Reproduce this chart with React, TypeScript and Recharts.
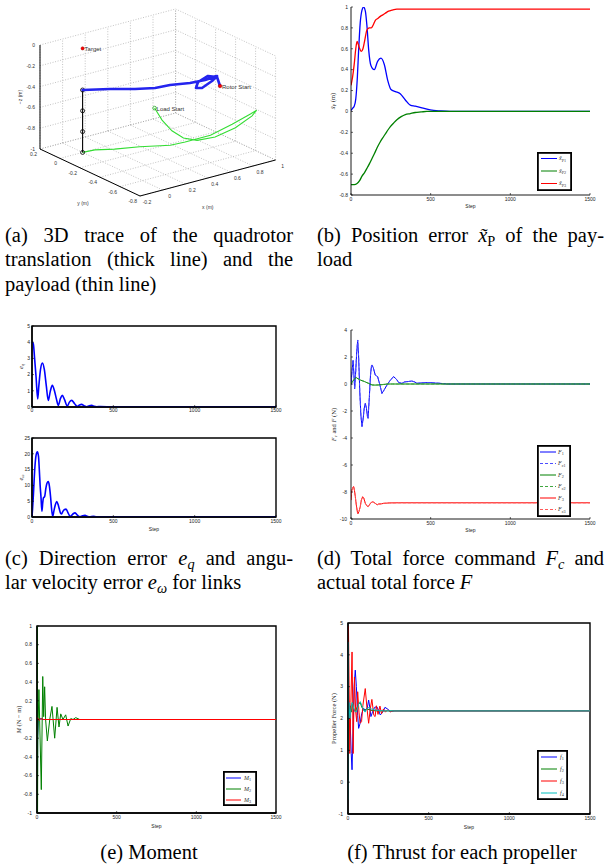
import React from 'react';
import { LineChart, Line, XAxis, YAxis, ScatterChart, Scatter, Legend, ReferenceArea, Label } from 'recharts';

const SANS = '"Liberation Sans", Arial, sans-serif';
const SERIF = '"Liberation Serif", "Times New Roman", serif';
const BLUE = '#0000ff';
const GREEN = '#008000';
const RED = '#ff0000';
const CYAN = '#00bfbf';

// ---------- (a) 3D trace (metres) ----------
const quadX = [0.825, 0.917, 0.878, 0.749, 0.665, 0.699, 0.84, 0.929, 0.813, 0.692, 0.554, 0.434, 0.308, 0.167, 0.0];
const quadY = [-0.442, -0.308, -0.262, -0.308, -0.382, -0.404, -0.345, -0.295, -0.306, -0.292, -0.248, -0.234, -0.176, -0.085, 0.0];
const quadZ = [-0.4, -0.4, -0.4, -0.4, -0.4, -0.4, -0.4, -0.4, -0.4, -0.4, -0.4, -0.4, -0.4, -0.4, -0.4];

const loadX = [0.69, 0.65, 0.64, 0.68, 0.73, 0.81, 0.91, 0.96, 0.93, 0.91, 0.81, 0.68, 0.58, 0.52, 0.39, 0.22, 0.1, 0.0];
const loadY = [0.06, -0.06, -0.17, -0.24, -0.32, -0.41, -0.5, -0.61, -0.69, -0.65, -0.58, -0.51, -0.37, -0.29, -0.13, -0.07, -0.01, 0.0];
const loadZ = [-0.8, -0.85, -0.9, -0.95, -0.95, -0.9, -0.8, -0.65, -0.55, -0.6, -0.7, -0.8, -0.9, -0.95, -1, -1, -1, -1];

const cableZ = [-0.4, -0.6, -0.8, -1.0];
const target3 = [0, 0, 0];

const xTicks3 = [-0.2, 0, 0.2, 0.4, 0.6, 0.8, 1];
const yTicks3 = [-0.8, -0.6, -0.4, -0.2, 0, 0.2];
const zTicks3 = [-1, -0.8, -0.6, -0.4, -0.2, 0];

// ---------- (b) position error ----------
const bStepsX = [0, 10, 20, 30, 40, 48, 58, 69, 79, 90, 100, 111, 125, 146, 167, 188, 209, 230, 251, 278, 309, 341, 372, 403, 445, 497, 560, 620, 800, 1500];
const bValsX = [0.01, 0.03, 0.05, 0.12, 0.33, 0.59, 0.85, 0.97, 1.0, 0.96, 0.82, 0.59, 0.44, 0.4, 0.48, 0.51, 0.45, 0.3, 0.21, 0.19, 0.17, 0.11, 0.06, 0.05, 0.035, 0.015, 0.005, 0, 0, 0];
const bStepsY = [0, 20, 38, 55, 69, 85, 100, 116, 132, 148, 163, 184, 205, 226, 247, 268, 288, 315, 341, 372, 403, 440, 476, 520, 600, 1500];
const bValsY = [-0.7, -0.7, -0.69, -0.66, -0.62, -0.585, -0.545, -0.5, -0.45, -0.4, -0.35, -0.29, -0.24, -0.19, -0.145, -0.11, -0.08, -0.05, -0.03, -0.02, -0.01, -0.005, 0, 0, 0, 0];
const bStepsZ = [0, 10, 20, 30, 38, 46, 55, 65, 75, 85, 100, 115, 127, 140, 152, 168, 184, 200, 215, 236, 257, 288, 330, 1500];
const bValsZ = [0.25, 0.33, 0.45, 0.6, 0.67, 0.64, 0.6, 0.575, 0.6, 0.67, 0.78, 0.8, 0.8, 0.83, 0.87, 0.89, 0.91, 0.925, 0.94, 0.96, 0.97, 0.98, 0.98, 0.98];
const bTicks = [-0.8, -0.6, -0.4, -0.2, 0, 0.2, 0.4, 0.6, 0.8, 1];

// ---------- (c) direction / angular velocity error ----------
const eqSteps = [0, 8, 16, 25, 35, 42, 52, 64, 76, 88, 100, 112, 125, 138, 150, 162, 174, 186, 200, 217, 230, 244, 262, 279, 292, 305, 320, 336, 352, 367, 383, 398, 420, 500, 1500];
const eqVals = [4.0, 3.9, 3.0, 1.85, 0.5, 1.3, 2.3, 2.72, 2.3, 1.3, 0.41, 0.95, 1.34, 1.0, 0.5, 0.1, 0.5, 0.72, 0.45, 0.06, 0.3, 0.41, 0.2, 0.04, 0.12, 0.16, 0.08, 0.02, 0.08, 0.1, 0.04, 0.02, 0.03, 0, 0];
const ewSteps = [0, 4, 8, 13, 18, 25, 33, 40, 45, 50, 55, 61, 66, 70, 78, 85, 92, 100, 107, 114, 121, 127, 135, 143, 152, 160, 168, 176, 182, 190, 200, 209, 220, 230, 238, 245, 255, 264, 275, 285, 295, 310, 326, 340, 352, 365, 377, 395, 418, 500, 1500];
const ewVals = [0, 3, 6.5, 11.5, 15.9, 19.5, 20.6, 19.2, 14.9, 10, 6.5, 1.8, 4.5, 6.0, 6.5, 9.0, 10.7, 11.2, 9.8, 6.5, 2.3, 0.2, 2.0, 3.8, 4.9, 4.0, 2.5, 1.2, 1.0, 1.8, 2.4, 2.5, 1.5, 0.5, 0.2, 0.6, 1.1, 1.3, 0.8, 0.3, 0.1, 0.35, 0.5, 0.2, 0, 0.15, 0.2, 0.05, 0, 0, 0];
const eqTicks = [0, 1, 2, 3, 4, 5];
const ewTicks = [0, 5, 10, 15, 20, 25];

// ---------- (d) total force ----------
const f1Steps = [0, 6, 13, 18, 23, 30, 36, 42, 48, 55, 62, 69, 76, 83, 90, 97, 103, 107, 115, 122, 128, 132, 140, 152, 160, 167, 180, 194, 210, 226, 245, 267, 285, 300, 320, 335, 351, 370, 382, 400, 414, 440, 470, 497, 530, 560, 600, 1500];
const f1Vals = [-0.07, 0.9, 1.75, 0.8, -0.36, 1.0, 2.4, 3.26, 2.0, -0.5, -2.3, -3.16, -2.6, -1.8, -1.43, -1.8, -2.4, -2.54, -1.0, 0.6, 1.3, 1.41, 1.2, 0.67, 0.6, 0.55, 0.0, -0.7, -0.4, -0.07, 0.25, 0.55, 0.35, 0.1, 0.05, 0.15, 0.17, 0.2, 0.22, 0.15, 0.05, 0.08, 0.1, 0.1, 0.07, 0.05, 0, 0];
const f2Steps = [0, 10, 20, 27, 33, 45, 58, 69, 85, 100, 116, 132, 150, 173, 200, 226, 260, 300, 1500];
const f2Vals = [0, 0.2, 0.35, 0.42, 0.47, 0.38, 0.3, 0.25, 0.18, 0.1, 0.02, -0.07, -0.08, -0.07, -0.04, 0, 0, 0, 0];
const f3Steps = [0, 3, 6, 12, 17, 22, 27, 35, 42, 50, 58, 65, 73, 80, 90, 98, 107, 116, 125, 138, 152, 165, 173, 190, 205, 240, 300, 1500];
const f3Vals = [-8.6, -8.1, -7.85, -7.65, -7.6, -7.9, -8.35, -9.1, -9.63, -9.45, -9.09, -8.6, -8.35, -8.45, -8.84, -9.0, -9.09, -8.95, -8.79, -8.72, -8.84, -8.95, -8.89, -8.88, -8.84, -8.81, -8.8, -8.8];
const dTicks = [-10, -8, -6, -4, -2, 0, 2, 4];

// ---------- (e) moment ----------
const m1Steps = [0, 1, 2, 4, 8, 20, 40, 1500];
const m1Vals = [0, -0.6, -1.3, -0.2, 0, 0.01, 0, 0];
const m2Steps = [0, 1, 2, 3, 5, 12, 27, 36, 42, 48, 54, 65, 80, 94, 111, 126, 138, 149, 163, 180, 195, 212, 226, 243, 268, 289, 400, 1500];
const m2Vals = [0, 1.4, 0.6, -1.3, -0.2, 0.32, -0.75, 0.46, 0.03, 0.35, 0.0, -0.23, 0.0, 0.14, -0.2, 0.13, -0.08, 0.06, 0.0, 0.05, -0.07, 0.01, 0.0, 0.02, 0.0, 0.0, 0, 0];
const m3Steps = [0, 3, 8, 15, 25, 40, 1500];
const m3Vals = [0, 0.02, 0.01, -0.01, 0.01, 0, 0];
const eTicks = [-1, -0.8, -0.6, -0.4, -0.2, 0, 0.2, 0.4, 0.6, 0.8, 1];

// ---------- (f) propeller thrust ----------
const p1Steps = [0, 3, 8, 14, 20, 25, 32, 38, 45, 52, 60, 66, 75, 85, 97, 108, 118, 128, 135, 142, 152, 165, 179, 190, 200, 215, 229, 245, 262, 290, 1500];
const p1Vals = [2.4, 2.58, 2.45, 1.8, 0.9, 0.39, 1.8, 3.0, 3.52, 3.0, 2.1, 1.69, 1.85, 2.15, 2.32, 2.25, 2.3, 2.58, 2.35, 2.06, 2.2, 2.35, 2.37, 2.25, 2.11, 2.2, 2.35, 2.3, 2.22, 2.24, 2.24];
const p2Steps = [0, 1, 2, 4, 8, 14, 20, 28, 36, 46, 56, 66, 76, 86, 100, 116, 130, 150, 180, 220, 1500];
const p2Vals = [2.2, 4.2, 1.0, 2.3, 2.1, 2.4, 2.2, 2.5, 2.3, 2.2, 2.35, 2.45, 2.5, 2.35, 2.25, 2.3, 2.28, 2.25, 2.24, 2.24, 2.24];
const p3Steps = [0, 3, 8, 11, 18, 25, 29, 32, 36, 40, 48, 54, 60, 68, 75, 84, 92, 107, 118, 128, 138, 148, 160, 168, 176, 186, 198, 208, 220, 232, 245, 262, 280, 1500];
const p3Vals = [2.2, 4.89, 2.5, 0.9, 2.5, 4.09, 2.5, 0.9, 2.2, 3.3, 2.2, 1.9, 2.84, 2.2, 1.85, 1.9, 2.4, 2.94, 2.3, 1.85, 2.3, 2.6, 2.1, 2.06, 2.4, 2.13, 2.39, 2.15, 2.3, 2.2, 2.27, 2.21, 2.24, 2.24];
const p4Steps = [0, 1, 2, 4, 6, 8, 12, 16, 20, 25, 30, 36, 42, 50, 58, 66, 76, 86, 96, 106, 116, 130, 145, 165, 190, 220, 260, 1500];
const p4Vals = [-0.55, 4.4, 2.0, 2.1, 2.5, 2.3, 2.0, 2.2, 2.35, 2.5, 2.45, 2.3, 2.25, 2.2, 2.3, 2.45, 2.53, 2.4, 2.27, 2.2, 2.3, 2.35, 2.3, 2.27, 2.25, 2.24, 2.24, 2.24];
const fTicks = [-1, 0, 1, 2, 3, 4, 5];

const STEP_TICKS = [0, 500, 1000, 1500];

// 3D -> screen projection of the view used in the figure (corner x=-0.2, y=0.2, z=-1 at 40,149)
const proj = (x: number, y: number, z: number) => ({
  px: 40 + 113 * (x + 0.2) - 100 * (y - 0.2),
  py: 149 - 30 * (x + 0.2) - 47 * (y - 0.2) - 104 * (z + 1),
});

const toRows = (steps: number[], values: number[]) => steps.map((s, i) => ({ step: s, v: values[i] }));

type Series = { key: string; steps: number[]; values: number[]; color: string; width?: number; dash?: string; label: React.ReactNode };

const sub = (t: React.ReactNode, size: number, dy: number) => (
  <tspan fontSize={size} dy={dy}>{t}</tspan>
);

function legendLabel(main: string, s: React.ReactNode) {
  return (
    <>
      <tspan fontStyle="italic">{main}</tspan>
      {sub(s, 4.2, 1.6)}
    </>
  );
}

interface LegendSpec { x: number; y: number; w: number; h: number; rows: number[]; lineX: [number, number]; textX: number }

interface PlotProps {
  x: number; y: number; w: number; h: number;
  top: number; right: number; yw: number; xh: number;
  yDomain: [number, number]; yTicks: number[];
  series: Series[];
  boxed?: boolean;
  yTickGap: number; xTickGap: number; stepGap?: number;
  yTitle?: React.ReactNode; yTitleX?: number;
  legend?: LegendSpec;
  curve: 'monotone' | 'linear';
}

function Plot(p: PlotProps) {
  const axisW = p.boxed ? 1.4 : 0.9;
  const tickStyle = { fontSize: 5, fill: '#222', fontFamily: SANS };
  const lg = p.legend;
  return (
    <div style={{ position: 'absolute', left: p.x, top: p.y, width: p.w, height: p.h }}>
      <LineChart width={p.w} height={p.h} margin={{ top: p.top, right: p.right, left: 0, bottom: 0 }}>
        <XAxis
          type="number" dataKey="step" domain={[0, 1500]} ticks={STEP_TICKS} interval={0} height={p.xh}
          tick={tickStyle} tickSize={-2} tickMargin={p.xTickGap}
          axisLine={{ stroke: '#000', strokeWidth: axisW }} tickLine={{ stroke: '#000', strokeWidth: 0.6 }}
          allowDataOverflow
        >
          {p.stepGap !== undefined && (
            <Label
              content={(props: any) => {
                const vb = props.viewBox;
                return (
                  <text x={vb.x + vb.width / 2} y={vb.y + (p.stepGap as number)} textAnchor="middle" fontSize={5} fontFamily={SANS} fill="#222">
                    Step
                  </text>
                );
              }}
            />
          )}
        </XAxis>
        <YAxis
          type="number" domain={p.yDomain} ticks={p.yTicks} interval={0} width={p.yw}
          tick={tickStyle} tickSize={-2} tickMargin={p.yTickGap} tickFormatter={(v: number) => String(v)}
          axisLine={{ stroke: '#000', strokeWidth: axisW }} tickLine={{ stroke: '#000', strokeWidth: 0.6 }}
          allowDataOverflow
        >
          {p.yTitle && (
            <Label
              content={(props: any) => {
                const vb = props.viewBox;
                const cy = vb.y + vb.height / 2;
                const tx = p.yTitleX as number;
                return (
                  <text x={tx} y={cy} transform={`rotate(-90 ${tx} ${cy})`} textAnchor="middle" dominantBaseline="central" fontSize={6.5} fontFamily={SERIF} fill="#222">
                    {p.yTitle}
                  </text>
                );
              }}
            />
          )}
        </YAxis>
        {p.boxed && (
          <XAxis xAxisId="t" orientation="top" type="number" domain={[0, 1500]} ticks={STEP_TICKS} interval={0} height={0}
            tick={false} tickSize={-2} axisLine={false} tickLine={{ stroke: '#000', strokeWidth: 0.6 }} />
        )}
        {p.boxed && (
          <YAxis yAxisId="r" orientation="right" type="number" domain={p.yDomain} ticks={p.yTicks} interval={0} width={0}
            tick={false} tickSize={-2} axisLine={false} tickLine={{ stroke: '#000', strokeWidth: 0.6 }} />
        )}
        {p.series.map((s) => (
          <Line
            key={s.key}
            data={toRows(s.steps, s.values)}
            dataKey="v"
            type={p.curve}
            stroke={s.color}
            strokeWidth={s.width ?? 1}
            strokeDasharray={s.dash}
            dot={false}
            activeDot={false}
            isAnimationActive={false}
          />
        ))}
        {p.boxed && (
          <ReferenceArea x1={0} x2={1500} y1={p.yDomain[0]} y2={p.yDomain[1]} fill="none" stroke="#000" strokeWidth={1.4} ifOverflow="visible" />
        )}
        {lg && (
          <Legend
            layout="horizontal" verticalAlign="middle" align="center"
            wrapperStyle={{ left: lg.x - p.x, top: lg.y - p.y, width: lg.w, height: lg.h }}
            content={() => (
              <svg width={lg.w} height={lg.h} style={{ display: 'block' }}>
                <rect x={0.9} y={0.9} width={lg.w - 1.8} height={lg.h - 1.8} fill="#fff" stroke="#000" strokeWidth={1.8} />
                {p.series.map((s, i) => (
                  <g key={s.key}>
                    <line x1={lg.lineX[0] - lg.x} x2={lg.lineX[1] - lg.x} y1={lg.rows[i] - lg.y} y2={lg.rows[i] - lg.y}
                      stroke={s.color} strokeWidth={1} strokeDasharray={s.dash} />
                    <text x={lg.textX - lg.x} y={lg.rows[i] - lg.y + 1.5} fontSize={6} fontFamily={SERIF} fill="#333">
                      {s.label}
                    </text>
                  </g>
                ))}
              </svg>
            )}
          />
        )}
      </LineChart>
    </div>
  );
}

const noShape = () => <g />;

const textShape = (dx: number, dy: number, anchor: 'start' | 'middle' | 'end', size: number, rotate = 0) =>
  (props: any) => {
    const x = props.cx + dx;
    const y = props.cy + dy;
    return (
      <text x={x} y={y} textAnchor={anchor} dominantBaseline="central" fontSize={size} fontFamily={SANS} fill="#333"
        transform={rotate ? `rotate(${rotate} ${x} ${y})` : undefined}>
        {props.payload.t}
      </text>
    );
  };

function Trace3D() {
  const grid: { px: number; py: number }[][] = [];
  xTicks3.forEach((x) => {
    grid.push([proj(x, 0.2, -1), proj(x, 0.2, 0)]);
    grid.push([proj(x, 0.2, -1), proj(x, -0.8, -1)]);
  });
  yTicks3.forEach((y) => {
    grid.push([proj(1, y, -1), proj(1, y, 0)]);
    grid.push([proj(-0.2, y, -1), proj(1, y, -1)]);
  });
  zTicks3.forEach((z) => {
    grid.push([proj(-0.2, 0.2, z), proj(1, 0.2, z)]);
    grid.push([proj(1, 0.2, z), proj(1, -0.8, z)]);
  });
  const axes = [
    [proj(-0.2, 0.2, -1), proj(-0.2, 0.2, 0)],
    [proj(-0.2, 0.2, -1), proj(-0.2, -0.8, -1)],
    [proj(-0.2, -0.8, -1), proj(1, -0.8, -1)],
  ];
  const quad = quadX.map((x, i) => proj(x, quadY[i], quadZ[i]));
  const load = loadX.map((x, i) => proj(x, loadY[i], loadZ[i]));
  const cable = cableZ.map((z) => proj(0, 0, z));
  const zLabels = zTicks3.map((z) => ({ ...proj(-0.2, 0.2, z), t: String(z) }));
  const yLabels = yTicks3.map((y) => ({ ...proj(-0.2, y, -1), t: String(y) }));
  const xLabels = xTicks3.map((x) => ({ ...proj(x, -0.8, -1), t: String(x) }));
  const target = [{ ...proj(target3[0], target3[1], target3[2]), t: 'Target' }];
  const rotor = [{ ...quad[0], t: 'Rotor Start' }];
  const loadStart = [{ ...load[0], t: 'Load Start' }];

  return (
    <div style={{ position: 'absolute', left: 0, top: 0, width: 300, height: 215 }}>
      <ScatterChart width={300} height={215} margin={{ top: 0, right: 0, bottom: 0, left: 0 }}>
        <XAxis type="number" dataKey="px" domain={[0, 300]} hide />
        <YAxis type="number" dataKey="py" domain={[0, 215]} reversed hide />
        {grid.map((seg, i) => (
          <Scatter key={`g${i}`} data={seg} shape={noShape} isAnimationActive={false}
            line={{ stroke: '#9a9a9a', strokeWidth: 0.6, strokeDasharray: '1 1.6' }} />
        ))}
        {axes.map((seg, i) => (
          <Scatter key={`a${i}`} data={seg} shape={noShape} isAnimationActive={false}
            line={{ stroke: '#000', strokeWidth: 1 }} />
        ))}
        <Scatter data={load} shape={noShape} isAnimationActive={false} line={{ stroke: '#33dd33', strokeWidth: 1.1 }} />
        <Scatter data={cable} isAnimationActive={false} line={{ stroke: '#000', strokeWidth: 1.1 }}
          shape={(props: any) => <circle cx={props.cx} cy={props.cy} r={2} fill="none" stroke="#111" strokeWidth={0.9} />} />
        <Scatter data={quad} shape={noShape} isAnimationActive={false}
          line={{ stroke: '#2424ee', strokeWidth: 2.6, strokeLinejoin: 'round', strokeLinecap: 'round' }} />
        <Scatter data={target} isAnimationActive={false}
          shape={(props: any) => <circle cx={props.cx} cy={props.cy} r={1.6} fill={RED} stroke="#900" strokeWidth={0.5} />} />
        <Scatter data={rotor} isAnimationActive={false}
          shape={(props: any) => <circle cx={props.cx} cy={props.cy} r={1.8} fill={RED} stroke="#900" strokeWidth={0.5} />} />
        <Scatter data={loadStart} isAnimationActive={false}
          shape={(props: any) => <circle cx={props.cx} cy={props.cy} r={1.8} fill="none" stroke="#22aa22" strokeWidth={0.8} />} />
        <Scatter data={target} isAnimationActive={false} shape={textShape(2, 0.5, 'start', 6)} />
        <Scatter data={rotor} isAnimationActive={false} shape={textShape(2, 0.5, 'start', 6)} />
        <Scatter data={loadStart} isAnimationActive={false} shape={textShape(2, 0.5, 'start', 6)} />
        <Scatter data={zLabels} isAnimationActive={false} shape={textShape(-5, 0, 'end', 5)} />
        <Scatter data={yLabels} isAnimationActive={false} shape={textShape(-3, 5, 'end', 5)} />
        <Scatter data={xLabels} isAnimationActive={false} shape={textShape(7, 6, 'middle', 5)} />
        <Scatter data={[{ ...proj(-0.2, 0.2, -0.5), t: '\u2212z (m)' }]} isAnimationActive={false} shape={textShape(-20, 0, 'middle', 5, -90)} />
        <Scatter data={[{ ...proj(-0.2, -0.3, -1), t: 'y (m)' }]} isAnimationActive={false} shape={textShape(-7, 30, 'middle', 5)} />
        <Scatter data={[{ ...proj(0.4, -0.8, -1), t: 'x (m)' }]} isAnimationActive={false} shape={textShape(0, 29, 'middle', 5)} />
      </ScatterChart>
    </div>
  );
}

const Sub = ({ children }: { children: React.ReactNode }) => (
  <sub style={{ fontSize: '0.7em', verticalAlign: '-0.25em', lineHeight: 0 }}>{children}</sub>
);

function Caption({ x, y, w, lines, center }: { x: number; y: number; w: number; lines: React.ReactNode[]; center?: boolean }) {
  return (
    <div style={{ position: 'absolute', left: x, top: y, width: w, fontFamily: SERIF, fontSize: 20.5, lineHeight: '24.3px', color: '#000' }}>
      {lines.map((l, i) => {
        const last = i === lines.length - 1;
        return (
          <div key={i} style={{ textAlign: center ? 'center' : 'justify', textAlignLast: center ? 'center' : last ? 'left' : 'justify' } as React.CSSProperties}>
            {l}
          </div>
        );
      })}
    </div>
  );
}

export default function App() {
  const bSeries: Series[] = [
    { key: 'x1', steps: bStepsX, values: bValsX, color: BLUE, width: 1.3, label: legendLabel('x\u0303', 'P1') },
    { key: 'x2', steps: bStepsY, values: bValsY, color: GREEN, width: 1.3, label: legendLabel('x\u0303', 'P2') },
    { key: 'x3', steps: bStepsZ, values: bValsZ, color: RED, width: 1.3, label: legendLabel('x\u0303', 'P3') },
  ];
  const dSeries: Series[] = [
    { key: 'F1', steps: f1Steps, values: f1Vals, color: BLUE, label: legendLabel('F', '1') },
    { key: 'Fc1', steps: f1Steps, values: f1Vals, color: '#4d4dff', dash: '3 2', label: legendLabel('F', 'c1') },
    { key: 'F2', steps: f2Steps, values: f2Vals, color: GREEN, label: legendLabel('F', '2') },
    { key: 'Fc2', steps: f2Steps, values: f2Vals, color: '#40a840', dash: '3 2', label: legendLabel('F', 'c2') },
    { key: 'F3', steps: f3Steps, values: f3Vals, color: RED, label: legendLabel('F', '3') },
    { key: 'Fc3', steps: f3Steps, values: f3Vals, color: '#ff5a5a', dash: '3 2', label: legendLabel('F', 'c3') },
  ];
  const eSeries: Series[] = [
    { key: 'M1', steps: m1Steps, values: m1Vals, color: BLUE, label: legendLabel('M', '1') },
    { key: 'M2', steps: m2Steps, values: m2Vals, color: GREEN, label: legendLabel('M', '2') },
    { key: 'M3', steps: m3Steps, values: m3Vals, color: RED, label: legendLabel('M', '3') },
  ];
  const fSeries: Series[] = [
    { key: 'f1', steps: p1Steps, values: p1Vals, color: BLUE, label: legendLabel('f', '1') },
    { key: 'f2', steps: p2Steps, values: p2Vals, color: GREEN, label: legendLabel('f', '2') },
    { key: 'f3', steps: p3Steps, values: p3Vals, color: RED, label: legendLabel('f', '3') },
    { key: 'f4', steps: p4Steps, values: p4Vals, color: CYAN, label: legendLabel('f', '4') },
  ];

  return (
    <div style={{ position: 'absolute', left: 0, top: 0, width: 606, height: 867, background: '#fff', overflow: 'hidden' }}>
      <Trace3D />

      <Plot
        x={300} y={0} w={306} h={215} top={7} right={16} yw={51} xh={20}
        yDomain={[-0.8, 1]} yTicks={bTicks} series={bSeries} curve="monotone"
        yTickGap={5} xTickGap={4.5} stepGap={13}
        yTitle={<><tspan fontStyle="italic">x&#x303;</tspan>{sub('P', 4.5, 1.6)}<tspan dy={-1.6}> (m)</tspan></>} yTitleX={32}
        legend={{ x: 537, y: 152, w: 35, h: 39, rows: [158.5, 171, 183.5], lineX: [541, 557], textX: 559 }}
      />

      <Plot
        x={0} y={318} w={300} h={100} top={8} right={24} yw={32} xh={11}
        yDomain={[0, 5]} yTicks={eqTicks} boxed curve="monotone"
        series={[{ key: 'eq', steps: eqSteps, values: eqVals, color: BLUE, width: 1.6, label: 'eq' }]}
        yTickGap={4} xTickGap={3}
        yTitle={<><tspan fontStyle="italic">e</tspan><tspan fontStyle="italic" fontSize={4.5} dy={1.6}>q</tspan></>} yTitleX={20}
      />
      <Plot
        x={0} y={430} w={300} h={106} top={8} right={24} yw={32} xh={19}
        yDomain={[0, 25]} yTicks={ewTicks} boxed curve="monotone"
        series={[{ key: 'ew', steps: ewSteps, values: ewVals, color: BLUE, width: 1.6, label: 'ew' }]}
        yTickGap={4} xTickGap={4.5} stepGap={14}
        yTitle={<><tspan fontStyle="italic">e</tspan><tspan fontStyle="italic" fontSize={4.5} dy={1.6}>ω</tspan></>} yTitleX={20}
      />

      <Plot
        x={300} y={322} w={306} h={215} top={8} right={16} yw={51} xh={18}
        yDomain={[-10, 4]} yTicks={dTicks} series={dSeries} curve="linear"
        yTickGap={6} xTickGap={4} stepGap={13}
        yTitle={<><tspan fontStyle="italic">F</tspan><tspan fontStyle="italic" fontSize={4.5} dy={1.6}>c</tspan><tspan dy={-1.6}> and </tspan><tspan fontStyle="italic">F</tspan> (N)</>}
        yTitleX={33}
        legend={{ x: 537, y: 445, w: 34, h: 72, rows: [452, 463.5, 475, 486.5, 498, 509.5], lineX: [540, 556], textX: 558 }}
      />

      <Plot
        x={0} y={618} w={300} h={215} top={8} right={24} yw={37} xh={20}
        yDomain={[-1, 1]} yTicks={eTicks} series={eSeries} boxed curve="linear"
        yTickGap={7} xTickGap={4.5} stepGap={15}
        yTitle={<><tspan fontStyle="italic">M</tspan> (N − m)</>} yTitleX={18}
        legend={{ x: 223, y: 771, w: 34, h: 35, rows: [778, 789, 800], lineX: [226, 241], textX: 244 }}
      />

      <Plot
        x={300} y={615} w={306} h={220} top={8} right={16} yw={48} xh={21}
        yDomain={[-1, 5]} yTicks={fTicks} series={fSeries} boxed curve="linear"
        yTickGap={7} xTickGap={4.5} stepGap={15}
        yTitle={<>Propeller Force (N)</>} yTitleX={33}
        legend={{ x: 537, y: 750, w: 31, h: 50, rows: [757, 769, 781, 793], lineX: [541, 557], textX: 560 }}
      />

      <Caption x={5} y={223} w={288} lines={['(a) 3D trace of the quadrotor', 'translation (thick line) and the', 'payload (thin line)']} />
      <Caption x={317} y={223} w={287} lines={[<>(b) Position error <i>x&#x303;</i><Sub>P</Sub> of the pay-</>, 'load']} />
      <Caption x={5} y={546} w={288} lines={[<>(c) Direction error <i>e</i><Sub><i>q</i></Sub> and angu-</>, <>lar velocity error <i>e</i><Sub><i>ω</i></Sub> for links</>]} />
      <Caption x={317} y={546} w={287} lines={[<>(d) Total force command <i>F</i><Sub><i>c</i></Sub> and</>, <>actual total force <i>F</i></>]} />
      <Caption x={5} y={840} w={288} center lines={['(e) Moment']} />
      <Caption x={318} y={840} w={288} center lines={['(f) Thrust for each propeller']} />
    </div>
  );
}
